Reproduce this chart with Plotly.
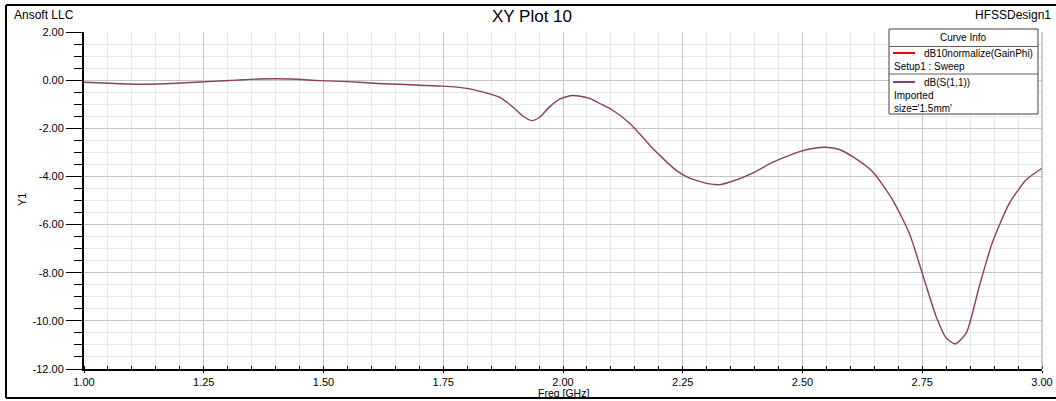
import plotly.graph_objects as go

# ---------------- data ----------------
freq_ghz = [1.00, 1.054, 1.117, 1.169, 1.221, 1.267, 1.319, 1.367, 1.43, 1.492,
            1.551, 1.613, 1.659, 1.701, 1.749, 1.799, 1.832, 1.868, 1.895, 1.916,
            1.935, 1.951, 1.972, 1.993, 2.018, 2.039, 2.056, 2.076, 2.103, 2.139,
            2.170, 2.187, 2.237, 2.264, 2.306, 2.327, 2.354, 2.396, 2.437, 2.458,
            2.494, 2.521, 2.550, 2.577, 2.604, 2.646, 2.688, 2.723, 2.750, 2.779,
            2.800, 2.819, 2.842, 2.869, 2.896, 2.932, 2.967, 3.00]
s11_db = [-0.09, -0.13, -0.17, -0.15, -0.10, -0.05, 0.00, 0.05, 0.05, -0.02,
          -0.06, -0.14, -0.17, -0.21, -0.25, -0.34, -0.49, -0.72, -1.11, -1.49,
          -1.68, -1.54, -1.11, -0.79, -0.64, -0.68, -0.76, -0.96, -1.24, -1.79,
          -2.45, -2.83, -3.76, -4.07, -4.31, -4.34, -4.20, -3.86, -3.42, -3.24,
          -2.97, -2.84, -2.79, -2.88, -3.17, -3.80, -4.97, -6.36, -8.02, -9.82,
          -10.71, -10.96, -10.50, -8.57, -6.77, -5.11, -4.14, -3.66]

x_tick_vals = [1.00, 1.25, 1.50, 1.75, 2.00, 2.25, 2.50, 2.75, 3.00]
x_tick_labels = ["1.00", "1.25", "1.50", "1.75", "2.00", "2.25", "2.50", "2.75", "3.00"]
y_tick_vals = [2, 0, -2, -4, -6, -8, -10, -12]
y_tick_labels = ["2.00", "0.00", "-2.00", "-4.00", "-6.00", "-8.00", "-10.00", "-12.00"]

legend_title = "Curve Info"
legend_names = ["dB10normalize(GainPhi)", "dB(S(1,1))"]
legend_subs = [["Setup1 : Sweep"], ["Imported", "size='1.5mm'"]]
legend_colors = ["#ff0000", "#8b3d67"]

# ---------------- geometry helpers (pixel -> paper) ----------------
W, H = 1056, 401
L, R, T, B = 84, 1042, 32, 369
PW, PH = R - L, B - T


def px(x):
    return (x - L) / PW


def py(y):
    return (B - y) / PH


FONT = "Liberation Sans, Arial, sans-serif"

fig = go.Figure()
fig.add_trace(go.Scatter(x=freq_ghz, y=s11_db, mode="lines",
                         line=dict(color=legend_colors[1], width=1.4, shape="spline", smoothing=0.6),
                         showlegend=False, hoverinfo="x+y"))

fig.update_layout(
    width=W, height=H,
    margin=dict(l=L, r=W - R, t=T, b=H - B, autoexpand=False),
    paper_bgcolor="white", plot_bgcolor="white",
    font=dict(family=FONT, size=11, color="#000000"),
    showlegend=False,
    xaxis=dict(range=[1, 3], tickmode="array", tickvals=x_tick_vals, ticktext=x_tick_labels,
               automargin=False,
               showgrid=True, gridcolor="#c4c4c4", gridwidth=1, zeroline=False,
               showline=True, linecolor="#000000", linewidth=2,
               ticks="outside", ticklen=2, tickwidth=1, tickcolor="#000000",
               tickfont=dict(size=11, family=FONT),
               minor=dict(tickmode="linear", tick0=1, dtick=0.05, ticks="inside", ticklen=3,
                          tickcolor="#000000", showgrid=True, gridcolor="#e8e8e8", gridwidth=1)),
    yaxis=dict(range=[-12, 2], tickmode="array", tickvals=y_tick_vals, ticktext=y_tick_labels,
               automargin=False,
               showgrid=True, gridcolor="#c4c4c4", gridwidth=1, zeroline=False,
               showline=True, linecolor="#000000", linewidth=2,
               ticks="outside", ticklen=16, tickwidth=1, tickcolor="#000000",
               tickfont=dict(size=11, family=FONT),
               minor=dict(tickmode="linear", tick0=0, dtick=0.5, ticks="outside", ticklen=8,
                          tickcolor="#000000", showgrid=True, gridcolor="#e8e8e8", gridwidth=1)),
)

shapes = []
# outer frame (left, top, bottom)
shapes.append(dict(type="line", xref="paper", yref="paper", x0=px(6), x1=px(6), y0=py(5), y1=py(398),
                   line=dict(color="#000000", width=2)))
shapes.append(dict(type="line", xref="paper", yref="paper", x0=px(6), x1=px(1058), y0=py(5), y1=py(5),
                   line=dict(color="#000000", width=2)))
shapes.append(dict(type="line", xref="paper", yref="paper", x0=px(6), x1=px(1058), y0=py(398), y1=py(398),
                   line=dict(color="#000000", width=2)))
# right border of plot area
shapes.append(dict(type="line", xref="paper", yref="paper", x0=1, x1=1, y0=0, y1=1,
                   line=dict(color="#9a9a9a", width=1)))
# legend box
lx0, lx1, ly0, ly1 = 889, 1038, 29, 114
shapes.append(dict(type="rect", xref="paper", yref="paper", x0=px(lx0), x1=px(lx1), y0=py(ly1), y1=py(ly0),
                   fillcolor="white", line=dict(color="#404040", width=1), layer="above"))
shapes.append(dict(type="line", xref="paper", yref="paper", x0=px(lx0), x1=px(lx1), y0=py(46.5), y1=py(46.5),
                   line=dict(color="#606060", width=1), layer="above"))
shapes.append(dict(type="line", xref="paper", yref="paper", x0=px(lx0), x1=px(lx1), y0=py(74), y1=py(74),
                   line=dict(color="#606060", width=1), layer="above"))

annotations = []


def txt(text, x, y, size=11, xanchor="left"):
    annotations.append(dict(text=text, xref="paper", yref="paper", x=px(x), y=py(y),
                            xanchor=xanchor, yanchor="middle", showarrow=False,
                            font=dict(family=FONT, size=size, color="#000000")))


entry_y = [53, 82]
for i, name in enumerate(legend_names):
    ey = entry_y[i]
    shapes.append(dict(type="line", xref="paper", yref="paper", x0=px(893), x1=px(915), y0=py(ey), y1=py(ey),
                       line=dict(color=legend_colors[i], width=2), layer="above"))
    txt(name, 922, ey, size=10)
    for j, sub in enumerate(legend_subs[i]):
        txt(sub, 892, ey + 13 * (j + 1), size=10)

txt(legend_title, 963.5, 37.5, size=10, xanchor="center")
txt("Ansoft LLC", 12, 15, size=12)
txt("HFSSDesign1", 1053, 15, size=12, xanchor="right")
txt("XY Plot 10", 532, 17, size=17, xanchor="center")
txt("Freq [GHz]", 563, 393, size=10.5, xanchor="center")
annotations.append(dict(text="Y1", xref="paper", yref="paper", x=px(22), y=py(200), textangle=-90,
                        xanchor="center", yanchor="middle", showarrow=False,
                        font=dict(family=FONT, size=11, color="#000000")))

fig.update_layout(shapes=shapes, annotations=annotations)
fig.write_html("out.html")
